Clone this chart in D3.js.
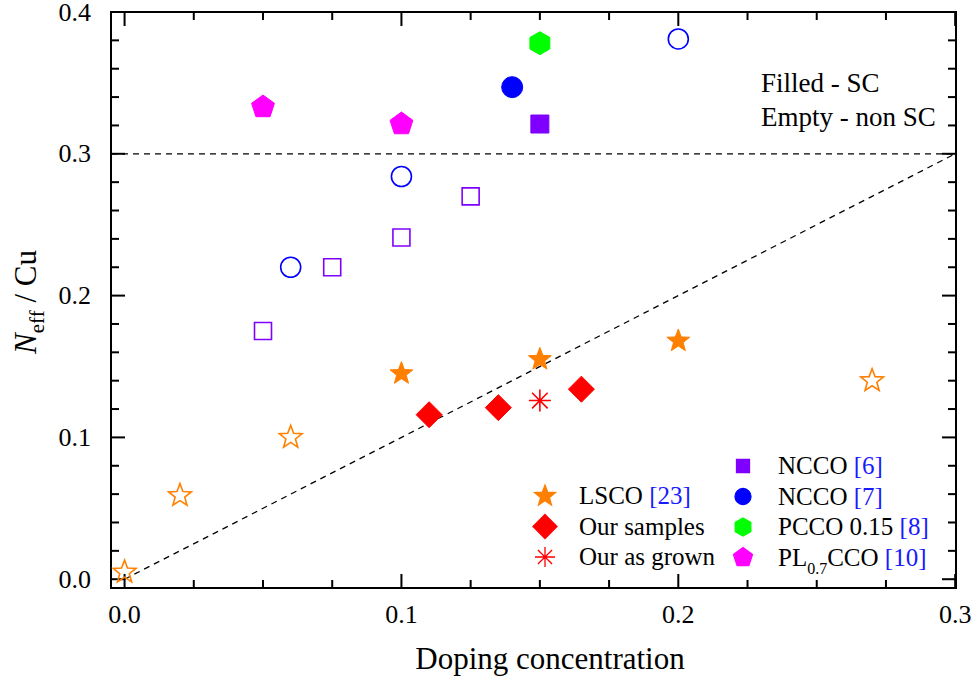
<!DOCTYPE html>
<html>
<head>
<meta charset="utf-8">
<script src="https://cdn.jsdelivr.net/npm/d3@7"></script>
<style>
  body { margin: 0; background: #fff; }
</style>
</head>
<body>
<div id="chart"></div>
<script>
// data
const lscoSC = [[0.1, 0.145], [0.15, 0.155], [0.2, 0.168]];
const lscoNon = [[0.0, 0.005], [0.02, 0.059], [0.06, 0.1], [0.27, 0.14]];
const ourSamples = [[0.11, 0.116], [0.135, 0.121], [0.165, 0.134]];
const ourAsGrown = [[0.15, 0.126]];
const ncco6SC = [[0.15, 0.321]];
const ncco6Non = [[0.05, 0.175], [0.075, 0.22], [0.1, 0.241], [0.125, 0.27]];
const ncco7SC = [[0.14, 0.347]];
const ncco7Non = [[0.06, 0.22], [0.1, 0.284], [0.2, 0.381]];
const pcco = [[0.15, 0.378]];
const plcco = [[0.05, 0.333], [0.1, 0.321]];
const xTicks = [0.0, 0.1, 0.2, 0.3];
const yTicks = [0.0, 0.1, 0.2, 0.3, 0.4];

const W = 974, H = 680;
const svg = d3.select("#chart").append("svg").attr("width", W).attr("height", H)
  .attr("font-family", "Liberation Serif");

const mLeft = 111, mRight = 956, mTop = 12, mBottom = 588;
const x = d3.scaleLinear().domain([-0.0049, 0.3003]).range([mLeft, mRight]);
const y = d3.scaleLinear().domain([-0.0062, 0.4]).range([mBottom, mTop]);

// marker shapes by radius
function shape(type, r) {
  const p = d3.path();
  if (type === "circle") {
    p.arc(0, 0, r, 0, 2 * Math.PI);
  } else if (type === "square") {
    p.rect(-r, -r, 2 * r, 2 * r);
  } else if (type === "diamond") {
    p.moveTo(0, -r); p.lineTo(r, 0); p.lineTo(0, r); p.lineTo(-r, 0); p.closePath();
  } else if (type === "star") {
    const ri = r * 0.42;
    for (let i = 0; i < 10; i++) {
      const a = -Math.PI / 2 + i * Math.PI / 5;
      const rr = i % 2 === 0 ? r : ri;
      if (i === 0) p.moveTo(rr * Math.cos(a), rr * Math.sin(a));
      else p.lineTo(rr * Math.cos(a), rr * Math.sin(a));
    }
    p.closePath();
  } else if (type === "pentagon") {
    for (let i = 0; i < 5; i++) {
      const a = -Math.PI / 2 + i * 2 * Math.PI / 5;
      if (i === 0) p.moveTo(r * Math.cos(a), r * Math.sin(a));
      else p.lineTo(r * Math.cos(a), r * Math.sin(a));
    }
    p.closePath();
  } else if (type === "hexagon") {
    for (let i = 0; i < 6; i++) {
      const a = -Math.PI / 2 + i * Math.PI / 3;
      if (i === 0) p.moveTo(r * Math.cos(a), r * Math.sin(a));
      else p.lineTo(r * Math.cos(a), r * Math.sin(a));
    }
    p.closePath();
  } else if (type === "asterisk") {
    for (let i = 0; i < 4; i++) {
      const a = i * Math.PI / 4;
      p.moveTo(r * Math.cos(a), r * Math.sin(a));
      p.lineTo(-r * Math.cos(a), -r * Math.sin(a));
    }
  }
  return p.toString();
}

// dashed reference lines
svg.append("line")
  .attr("x1", x(-0.0049)).attr("x2", x(0.3003)).attr("y1", y(0.3)).attr("y2", y(0.3))
  .attr("stroke", "#000").attr("stroke-width", 1.3).attr("stroke-dasharray", "6,5");
svg.append("line")
  .attr("x1", x(0)).attr("y1", y(0)).attr("x2", x(0.3)).attr("y2", y(0.3))
  .attr("stroke", "#000").attr("stroke-width", 1.3).attr("stroke-dasharray", "6,5");

// frame
svg.append("rect").attr("x", mLeft).attr("y", mTop)
  .attr("width", mRight - mLeft).attr("height", mBottom - mTop)
  .attr("fill", "none").attr("stroke", "#000").attr("stroke-width", 2);

// ticks, inward on all sides
const xMinor = d3.range(0, 0.3001, 0.025);
const yMinor = d3.range(0, 0.4001, 0.02);
function isMajor(v, step) { return Math.abs(v / step - Math.round(v / step)) < 1e-6; }
const tg = svg.append("g").attr("stroke", "#000").attr("stroke-width", 2);
xMinor.forEach(v => {
  const len = isMajor(v, 0.1) ? 14 : 8;
  tg.append("line").attr("x1", x(v)).attr("x2", x(v)).attr("y1", mBottom).attr("y2", mBottom - len);
  tg.append("line").attr("x1", x(v)).attr("x2", x(v)).attr("y1", mTop).attr("y2", mTop + len);
});
yMinor.forEach(v => {
  const len = isMajor(v, 0.1) ? 14 : 8;
  tg.append("line").attr("y1", y(v)).attr("y2", y(v)).attr("x1", mLeft).attr("x2", mLeft + len);
  tg.append("line").attr("y1", y(v)).attr("y2", y(v)).attr("x1", mRight).attr("x2", mRight - len);
});

// tick labels
svg.selectAll(".xl").data(xTicks).enter().append("text")
  .attr("x", d => x(d)).attr("y", 623).attr("text-anchor", "middle")
  .attr("font-size", 26).text(d => d.toFixed(1));
svg.selectAll(".yl").data(yTicks).enter().append("text")
  .attr("x", 91).attr("y", d => y(d) + 8.5).attr("text-anchor", "end")
  .attr("font-size", 26).text(d => d.toFixed(1));

// axis titles
svg.append("text").attr("x", 550).attr("y", 669).attr("text-anchor", "middle")
  .attr("font-size", 31).text("Doping concentration");
const yt = svg.append("text").attr("transform", "translate(36,302) rotate(-90)")
  .attr("text-anchor", "middle").attr("font-size", 31);
yt.append("tspan").attr("font-style", "italic").text("N");
yt.append("tspan").attr("font-size", 21).attr("dy", 8).text("eff");
yt.append("tspan").attr("dy", -8).text("  / Cu");

// series
const series = [
  { data: ncco6Non, type: "square", r: 8.5, color: "#8000ff", fill: false },
  { data: ncco7Non, type: "circle", r: 10, color: "#0000ff", fill: false },
  { data: lscoNon, type: "star", r: 12, color: "#ff8000", fill: false },
  { data: lscoSC, type: "star", r: 12, color: "#ff8000", fill: true },
  { data: ourSamples, type: "diamond", r: 13, color: "#ff0000", fill: true },
  { data: ourAsGrown, type: "asterisk", r: 11, color: "#ff0000", fill: false },
  { data: ncco6SC, type: "square", r: 9, color: "#8000ff", fill: true },
  { data: ncco7SC, type: "circle", r: 10.5, color: "#0000ff", fill: true },
  { data: pcco, type: "hexagon", r: 11.5, color: "#00ff00", fill: true },
  { data: plcco, type: "pentagon", r: 12, color: "#ff00ff", fill: true }
];
series.forEach(s => {
  svg.append("g").selectAll("path").data(s.data).enter().append("path")
    .attr("transform", d => `translate(${x(d[0])},${y(d[1])})`)
    .attr("d", shape(s.type, s.r))
    .attr("fill", s.fill ? s.color : "none")
    .attr("stroke", s.color)
    .attr("stroke-width", s.fill ? 1 : 1.6);
});

// annotation
svg.append("text").attr("x", 761).attr("y", 92).attr("font-size", 27).text("Filled - SC");
svg.append("text").attr("x", 761).attr("y", 126).attr("font-size", 27).text("Empty - non SC");

// legend
const legendLeft = [
  { type: "star", r: 11, color: "#ff8000", label: "LSCO ", ref: "[23]", fill: true },
  { type: "diamond", r: 12, color: "#ff0000", label: "Our samples", ref: "", fill: true },
  { type: "asterisk", r: 10, color: "#ff0000", label: "Our as grown", ref: "", fill: false }
];
const legendRight = [
  { type: "square", r: 6.5, color: "#8000ff", label: "NCCO ", ref: "[6]", fill: true },
  { type: "circle", r: 8, color: "#0000ff", label: "NCCO ", ref: "[7]", fill: true },
  { type: "hexagon", r: 9, color: "#00ff00", label: "PCCO 0.15 ", ref: "[8]", fill: true },
  { type: "pentagon", r: 10, color: "#ff00ff", label: "PL", sub: "0.7", label2: "CCO ", ref: "[10]", fill: true }
];
function drawLegend(items, mx, tx, y0) {
  items.forEach((it, i) => {
    const yy = y0 + i * 30.5;
    svg.append("path").attr("transform", `translate(${mx},${yy})`)
      .attr("d", shape(it.type, it.r))
      .attr("fill", it.fill ? it.color : "none").attr("stroke", it.color).attr("stroke-width", 1.3);
    const t = svg.append("text").attr("x", tx).attr("y", yy + 8).attr("font-size", 25);
    t.append("tspan").text(it.label);
    if (it.sub) {
      t.append("tspan").attr("font-size", 16).attr("dy", 8).text(it.sub);
      t.append("tspan").attr("dy", -8).text(it.label2);
    }
    if (it.ref) t.append("tspan").attr("fill", "#1a1aff").text(it.ref);
  });
}
drawLegend(legendLeft, 545, 579, 496);
drawLegend(legendRight, 743, 778, 466);
</script>
</body>
</html>
